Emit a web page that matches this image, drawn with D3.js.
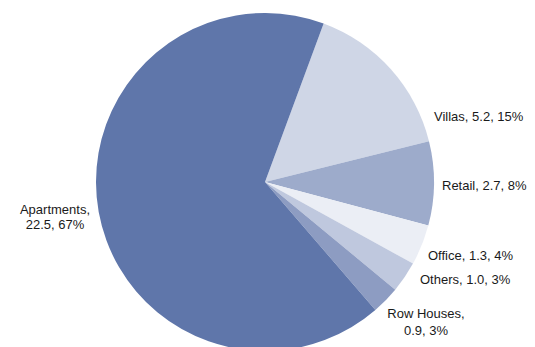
<!DOCTYPE html>
<html>
<head>
<meta charset="utf-8">
<script src="https://cdn.jsdelivr.net/npm/d3@7"></script>
<style>
  body { margin: 0; background: #fff; }
  svg text { font-family: "Liberation Sans", Arial, sans-serif; font-size: 13px; fill: #1a1a1a; }
</style>
</head>
<body>
<svg width="535" height="347"></svg>
<script>
// data, clockwise from the top-right
const categories = ["Villas", "Retail", "Office", "Others", "Row Houses", "Apartments"];
const values = [5.2, 2.7, 1.3, 1.0, 0.9, 22.5];
const percents = ["15%", "8%", "4%", "3%", "3%", "67%"];

const colors = ["#cfd6e6", "#9dabcb", "#ebeef5", "#bfc8de", "#8d9cc2", "#5f76aa"];

const svg = d3.select("svg"),
    width = +svg.attr("width"),
    height = +svg.attr("height");

const cx = 265, cy = 182, radius = 169;

const data = categories.map((c, i) => ({ name: c, value: values[i], pct: percents[i], color: colors[i] }));

// start where the big slice ends
const start = 20.3 * Math.PI / 180;
const pie = d3.pie()
    .sort(null)
    .value(d => d.value)
    .startAngle(start)
    .endAngle(start + 2 * Math.PI);

const arc = d3.arc().innerRadius(0).outerRadius(radius);

const g = svg.append("g").attr("transform", `translate(${cx},${cy})`);

g.selectAll("path")
  .data(pie(data))
  .join("path")
    .attr("d", arc)
    .attr("fill", d => d.data.color);

// label placement (x, y, anchor, split onto two lines)
const labelPos = {
  "Villas":     [434, 121, "start", false],
  "Retail":     [442, 190, "start", false],
  "Office":     [428, 260, "start", false],
  "Others":     [420, 284, "start", false],
  "Row Houses": [426, 318, "middle", true],
  "Apartments": [55, 214, "middle", true]
};

data.forEach(d => {
  const p = labelPos[d.name];
  const t = svg.append("text")
      .attr("x", p[0])
      .attr("y", p[1])
      .attr("text-anchor", p[2]);
  if (p[3]) {
    t.append("tspan").attr("x", p[0]).text(d.name + ",");
    t.append("tspan").attr("x", p[0]).attr("dy", d.name == "Apartments" ? 15 : 17)
      .text(d.value.toFixed(1) + ", " + d.pct);
  } else {
    t.text(d.name + ", " + d.value.toFixed(1) + ", " + d.pct);
  }
});
</script>
</body>
</html>
